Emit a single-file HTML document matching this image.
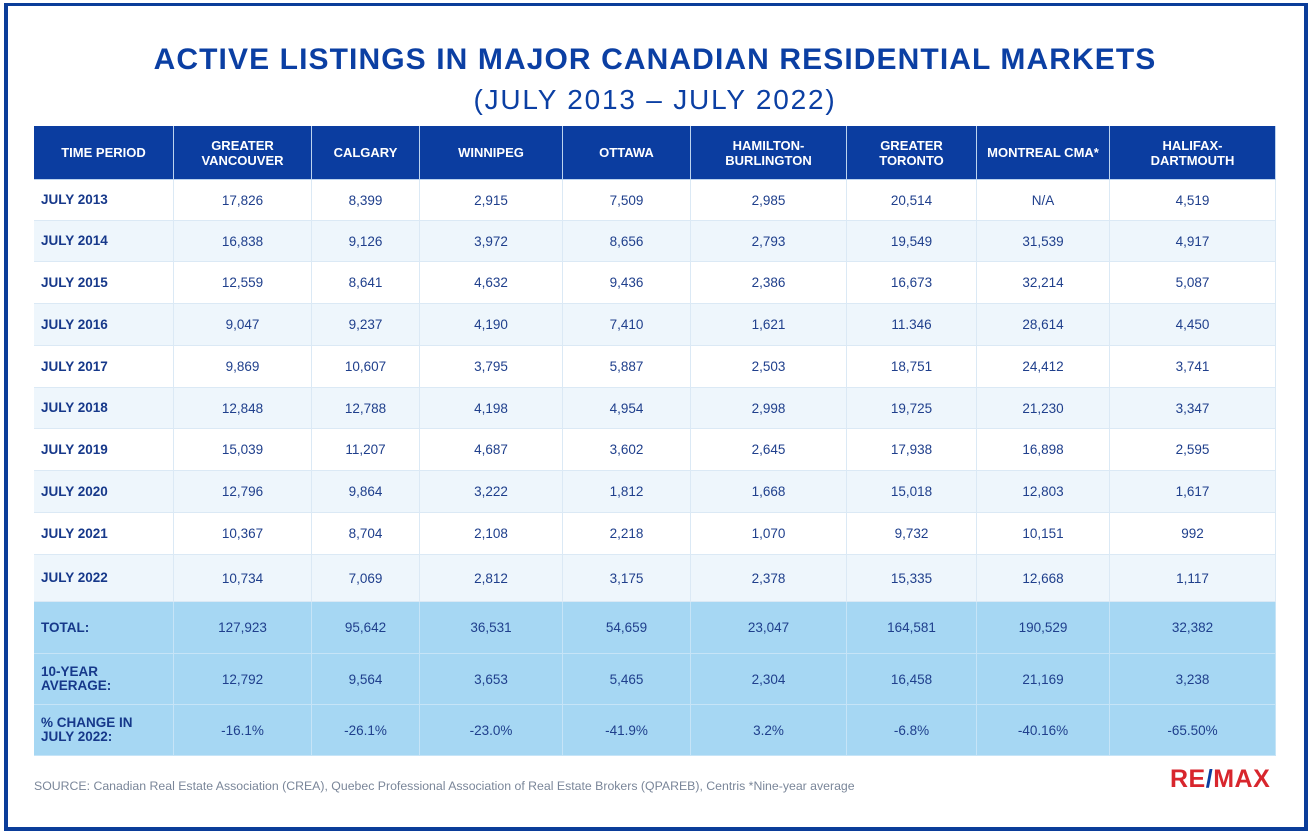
<!DOCTYPE html>
<html><head><meta charset="utf-8">
<style>
html,body{margin:0;padding:0;background:#fff;}
body{width:1310px;height:834px;position:relative;overflow:hidden;font-family:"Liberation Sans",sans-serif;}
#frame{position:absolute;left:4px;top:3px;width:1296px;height:821px;border:4px solid #0b3d99;border-top-width:3px;}
#title{position:absolute;left:0;width:1310px;top:43px;text-align:center;font-weight:bold;font-size:30px;color:#0b3fa3;letter-spacing:1.1px;}
#sub{position:absolute;left:0;width:1310px;top:84px;text-align:center;font-size:28px;color:#0b3fa3;letter-spacing:1.8px;}
.c{position:absolute;box-sizing:border-box;display:flex;align-items:center;justify-content:center;text-align:center;font-size:13.5px;color:#1f3f8c;border-right:1px solid #dbe9f5;border-bottom:1px solid #dbe9f5;}
.h{background:#0b3da0;color:#fff;font-weight:bold;font-size:13px;line-height:15px;border-color:#bcd3ee;}
.l{justify-content:flex-start;padding-left:7px;font-weight:bold;text-align:left;color:#16388a;line-height:14px;}
.h.l{justify-content:center;padding-left:0;text-align:center;color:#fff;}
.s{background:#a6d7f3;border-color:#c6e4f7;}
#src{position:absolute;left:34px;top:779px;font-size:12.3px;color:#7a8699;}
#logo{position:absolute;left:1170px;top:765px;font-size:25px;font-weight:bold;color:#d8262d;letter-spacing:0.5px;}
</style></head><body>
<div id="frame"></div>
<div id="title">ACTIVE LISTINGS IN MAJOR CANADIAN RESIDENTIAL MARKETS</div>
<div id="sub">(JULY 2013 – JULY 2022)</div>
<div id="tbl"></div>
<div id="src">SOURCE: Canadian Real Estate Association (CREA), Quebec Professional Association of Real Estate Brokers (QPAREB), Centris *Nine-year average</div>
<div id="logo">RE<span style="color:#0b3da0">/</span>MAX</div>
<script>
const headers=["TIME PERIOD","GREATER<br>VANCOUVER","CALGARY","WINNIPEG","OTTAWA","HAMILTON-<br>BURLINGTON","GREATER<br>TORONTO","MONTREAL CMA*","HALIFAX-<br>DARTMOUTH"];
const periods=["JULY 2013","JULY 2014","JULY 2015","JULY 2016","JULY 2017","JULY 2018","JULY 2019","JULY 2020","JULY 2021","JULY 2022"];
const vancouver=["17,826","16,838","12,559","9,047","9,869","12,848","15,039","12,796","10,367","10,734"];
const calgary=["8,399","9,126","8,641","9,237","10,607","12,788","11,207","9,864","8,704","7,069"];
const winnipeg=["2,915","3,972","4,632","4,190","3,795","4,198","4,687","3,222","2,108","2,812"];
const ottawa=["7,509","8,656","9,436","7,410","5,887","4,954","3,602","1,812","2,218","3,175"];
const hamilton=["2,985","2,793","2,386","1,621","2,503","2,998","2,645","1,668","1,070","2,378"];
const toronto=["20,514","19,549","16,673","11.346","18,751","19,725","17,938","15,018","9,732","15,335"];
const montreal=["N/A","31,539","32,214","28,614","24,412","21,230","16,898","12,803","10,151","12,668"];
const halifax=["4,519","4,917","5,087","4,450","3,741","3,347","2,595","1,617","992","1,117"];
const summaryLabels=["TOTAL:","10-YEAR<br>AVERAGE:","% CHANGE IN<br>JULY 2022:"];
const summaryTotal=["127,923","95,642","36,531","54,659","23,047","164,581","190,529","32,382"];
const summaryAvg=["12,792","9,564","3,653","5,465","2,304","16,458","21,169","3,238"];
const summaryChange=["-16.1%","-26.1%","-23.0%","-41.9%","3.2%","-6.8%","-40.16%","-65.50%"];

const colX=[34,174,312,420,563,691,847,977,1110,1276];
const rowY=[126,180,221,262,304,346,388,429,471,513,555,602,654,705,756];
const tbl=document.getElementById('tbl');
const series=[vancouver,calgary,winnipeg,ottawa,hamilton,toronto,montreal,halifax];
const summaries=[summaryTotal,summaryAvg,summaryChange];
function cell(r,c,html,cls,bg){
  const d=document.createElement('div');
  d.className='c '+cls;
  d.style.left=colX[c]+'px';d.style.top=rowY[r]+'px';
  d.style.width=(colX[c+1]-colX[c])+'px';d.style.height=(rowY[r+1]-rowY[r])+'px';
  if(bg)d.style.background=bg;
  d.innerHTML=html;
  
  
  tbl.appendChild(d);
}
headers.forEach((h,c)=>cell(0,c,h,'h'+(c===0?' l':'')));
periods.forEach((p,i)=>{
  const bg=i%2===0?'#ffffff':'#eef6fc';
  cell(i+1,0,p,'l',bg);
  series.forEach((s,c)=>cell(i+1,c+1,s[i],'',bg));
});
summaryLabels.forEach((lab,i)=>{
  const r=periods.length+1+i;
  cell(r,0,lab,'l s');
  summaries[i].forEach((v,c)=>cell(r,c+1,v,'s'));
});
</script>
</body></html>
